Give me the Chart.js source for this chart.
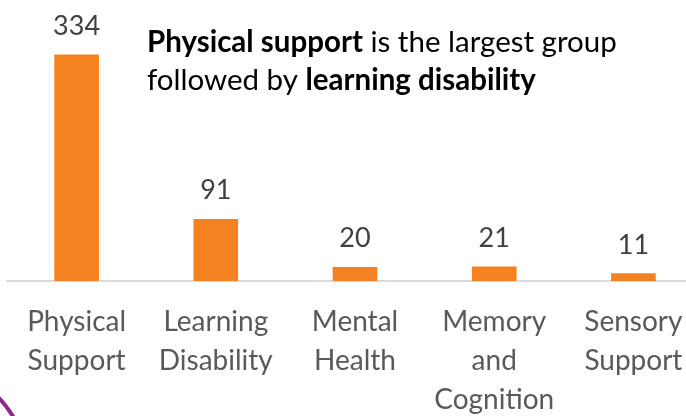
<!DOCTYPE html>
<html>
<head>
<meta charset="utf-8">
<script src="https://cdn.jsdelivr.net/npm/chart.js@4/dist/chart.umd.min.js"></script>
<style>
    html, body { margin: 0; padding: 0; background: #fff; overflow: hidden; }
    #wrap { position: relative; width: 703px; height: 416px; }
</style>
</head>
<body>
<div id="wrap"><canvas id="groupChart"></canvas></div>
<script>
// 数据
var categories = [
    ['Physical', 'Support'],
    ['Learning', 'Disability'],
    ['Mental', 'Health'],
    ['Memory', 'and', 'Cognition'],
    ['Sensory', 'Support']
];
var counts = [334, 91, 20, 21, 11];
var noteLine1 = [['Physical support', true], [' is the largest group', false]];
var noteLine2 = [['followed by ', false], ['learning disability', true]];

var FONT = 'Lato, "Open Sans", sans-serif';

// 柱顶数值
const valueLabels = {
    id: 'valueLabels',
    afterDatasetsDraw(chart) {
        const ctx = chart.ctx;
        const meta = chart.getDatasetMeta(0);
        ctx.save();
        ctx.font = '27px ' + FONT;
        ctx.fillStyle = '#404040';
        ctx.textAlign = 'center';
        ctx.textBaseline = 'alphabetic';
        meta.data.forEach(function(bar, i) {
            ctx.fillText(String(counts[i]), bar.x, bar.y - 20);
        });
        ctx.restore();
    }
};

// 说明文字 + 左下角装饰
const noteText = {
    id: 'noteText',
    afterDraw(chart) {
        const ctx = chart.ctx;
        ctx.save();
        ctx.fillStyle = '#000';
        ctx.textBaseline = 'alphabetic';
        [[noteLine1, 52], [noteLine2, 90]].forEach(function(line) {
            var x = 147;
            line[0].forEach(function(seg) {
                ctx.font = (seg[1] ? 'bold ' : '') + '29.5px ' + FONT;
                ctx.fillText(seg[0], x, line[1]);
                x += ctx.measureText(seg[0]).width;
            });
        });
        // 紫色弧线
        ctx.strokeStyle = '#8E2A8C';
        ctx.lineWidth = 4;
        ctx.beginPath();
        ctx.moveTo(-2, 397);
        ctx.quadraticCurveTo(6, 405, 14, 418);
        ctx.stroke();
        ctx.restore();
    }
};

new Chart(document.getElementById('groupChart'), {
    type: 'bar',
    data: {
        labels: categories,
        datasets: [{
            data: counts,
            backgroundColor: '#F58220',
            barThickness: 44
        }]
    },
    options: {
        responsive: true,
        maintainAspectRatio: false,
        animation: false,
        layout: { padding: { top: 10, left: 7, right: 0, bottom: 0 } },
        plugins: {
            legend: { display: false },
            tooltip: { enabled: false }
        },
        scales: {
            x: {
                grid: { display: false },
                border: { display: true, color: '#D9D9D9', width: 2 },
                ticks: {
                    color: '#595959',
                    font: { family: FONT, size: 28, lineHeight: 1.38 },
                    padding: 14,
                    maxRotation: 0,
                    autoSkip: false
                },
                afterFit: function(scale) { scale.height = 135; }
            },
            y: {
                display: false,
                min: 0,
                max: 400
            }
        }
    },
    plugins: [valueLabels, noteText]
});
</script>
</body>
</html>
